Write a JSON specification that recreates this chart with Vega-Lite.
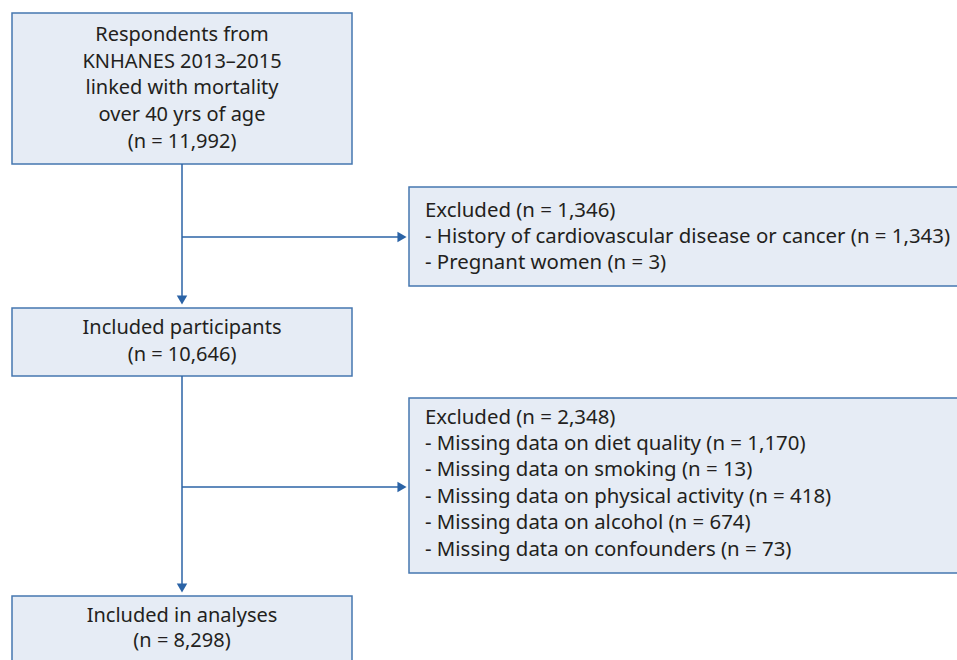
{
  "$schema": "https://vega.github.io/schema/vega-lite/v6.json",
  "width": 957,
  "height": 660,
  "autosize": {"type": "fit", "contains": "padding"},
  "padding": 0,
  "background": "white",
  "config": {"view": {"stroke": null}},
  "datasets": {
    "boxes": [
      {"x": 12, "x2": 352, "y": 13, "y2": 164},
      {"x": 409, "x2": 970, "y": 187, "y2": 286},
      {"x": 12, "x2": 352, "y": 308, "y2": 376},
      {"x": 409, "x2": 970, "y": 398, "y2": 573},
      {"x": 12, "x2": 352, "y": 596, "y2": 680}
    ],
    "lines": [
      {"x": 182, "x2": 182, "y": 164, "y2": 300},
      {"x": 182, "x2": 402, "y": 237, "y2": 237},
      {"x": 182, "x2": 182, "y": 376, "y2": 588},
      {"x": 182, "x2": 402, "y": 487, "y2": 487}
    ],
    "arrows": [
      {"x": 182, "y": 300, "shape": "triangle-down"},
      {"x": 402, "y": 237, "shape": "triangle-right"},
      {"x": 182, "y": 588, "shape": "triangle-down"},
      {"x": 402, "y": 487, "shape": "triangle-right"}
    ],
    "centered": [
      {"x": 182, "y": 35, "t": "Respondents from"},
      {"x": 182, "y": 62, "t": "KNHANES 2013–2015"},
      {"x": 182, "y": 88, "t": "linked with mortality"},
      {"x": 182, "y": 115, "t": "over 40 yrs of age"},
      {"x": 182, "y": 142, "t": "(n = 11,992)"},
      {"x": 182, "y": 328, "t": "Included participants"},
      {"x": 182, "y": 355, "t": "(n = 10,646)"},
      {"x": 182, "y": 616, "t": "Included in analyses"},
      {"x": 182, "y": 641, "t": "(n = 8,298)"}
    ],
    "left": [
      {"x": 425, "y": 211, "t": "Excluded (n = 1,346)"},
      {"x": 425, "y": 237, "t": "- History of cardiovascular disease or cancer (n = 1,343)"},
      {"x": 425, "y": 263, "t": "- Pregnant women (n = 3)"},
      {"x": 425, "y": 418, "t": "Excluded (n = 2,348)"},
      {"x": 425, "y": 444, "t": "- Missing data on diet quality (n = 1,170)"},
      {"x": 425, "y": 470, "t": "- Missing data on smoking (n = 13)"},
      {"x": 425, "y": 497, "t": "- Missing data on physical activity (n = 418)"},
      {"x": 425, "y": 523, "t": "- Missing data on alcohol (n = 674)"},
      {"x": 425, "y": 550, "t": "- Missing data on confounders (n = 73)"}
    ]
  },
  "layer": [
    {
      "data": {"name": "boxes"},
      "mark": {"type": "rect", "fill": "#e6ecf5", "stroke": "#4677b0", "strokeWidth": 1.5},
      "encoding": {
        "x": {"field": "x", "type": "quantitative", "scale": {"domain": [0, 957], "range": [0, 957]}, "axis": null},
        "x2": {"field": "x2"},
        "y": {"field": "y", "type": "quantitative", "scale": {"domain": [0, 660], "range": [0, 660]}, "axis": null},
        "y2": {"field": "y2"}
      }
    },
    {
      "data": {"name": "lines"},
      "mark": {"type": "rule", "stroke": "#2b63a6", "strokeWidth": 1.5},
      "encoding": {
        "x": {"field": "x", "type": "quantitative", "scale": {"domain": [0, 957], "range": [0, 957]}, "axis": null},
        "x2": {"field": "x2"},
        "y": {"field": "y", "type": "quantitative", "scale": {"domain": [0, 660], "range": [0, 660]}, "axis": null},
        "y2": {"field": "y2"}
      }
    },
    {
      "data": {"name": "arrows"},
      "mark": {"type": "point", "filled": true, "fill": "#2b63a6", "size": 110, "opacity": 1, "strokeWidth": 0},
      "encoding": {
        "x": {"field": "x", "type": "quantitative", "scale": {"domain": [0, 957], "range": [0, 957]}, "axis": null},
        "y": {"field": "y", "type": "quantitative", "scale": {"domain": [0, 660], "range": [0, 660]}, "axis": null},
        "shape": {"field": "shape", "type": "nominal", "scale": null}
      }
    },
    {
      "data": {"name": "centered"},
      "mark": {"type": "text", "align": "center", "baseline": "middle", "font": "Noto Sans", "fontSize": 20, "color": "#231f20"},
      "encoding": {
        "x": {"field": "x", "type": "quantitative", "scale": {"domain": [0, 957], "range": [0, 957]}, "axis": null},
        "y": {"field": "y", "type": "quantitative", "scale": {"domain": [0, 660], "range": [0, 660]}, "axis": null},
        "text": {"field": "t"}
      }
    },
    {
      "data": {"name": "left"},
      "mark": {"type": "text", "align": "left", "baseline": "middle", "font": "Noto Sans", "fontSize": 20.4, "color": "#231f20"},
      "encoding": {
        "x": {"field": "x", "type": "quantitative", "scale": {"domain": [0, 957], "range": [0, 957]}, "axis": null},
        "y": {"field": "y", "type": "quantitative", "scale": {"domain": [0, 660], "range": [0, 660]}, "axis": null},
        "text": {"field": "t"}
      }
    }
  ]
}
